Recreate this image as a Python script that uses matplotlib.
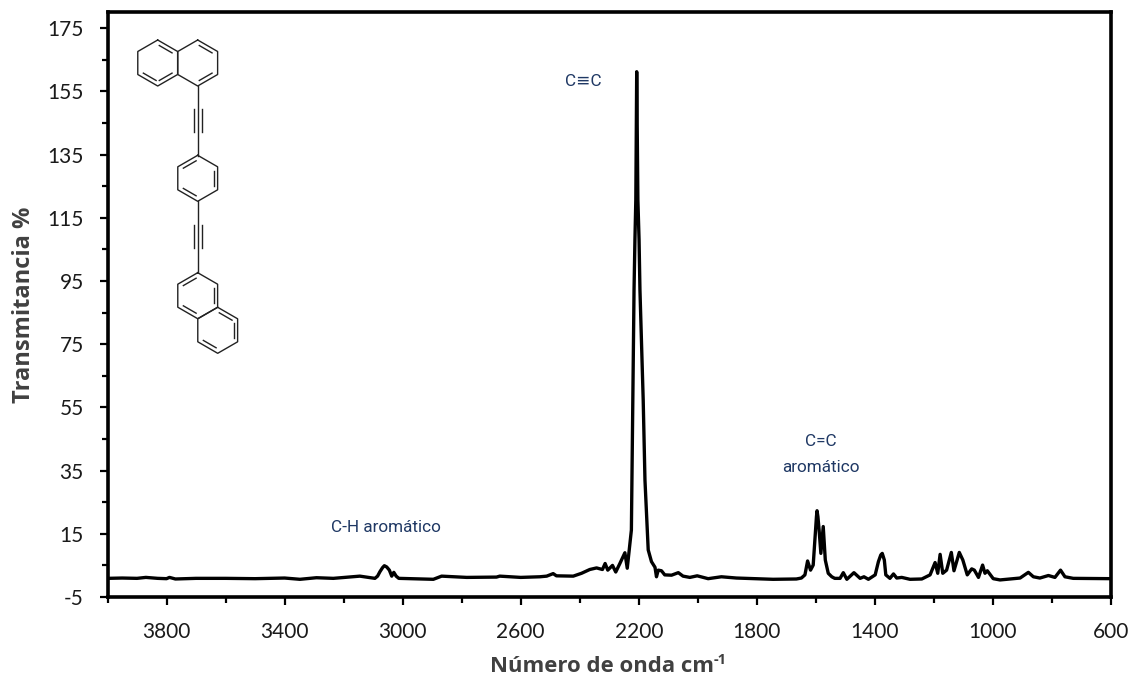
import numpy as np
import matplotlib
matplotlib.use("Agg")
import matplotlib.pyplot as plt
from matplotlib.ticker import MultipleLocator, FixedLocator, NullFormatter

plt.rcParams["axes.unicode_minus"] = False

# spectrum
wavenumber = [4000, 3950, 3900, 3870, 3830, 3800, 3790, 3770, 3700, 3600, 3500, 3400,
              3348, 3292, 3235, 3145, 3094, 3085, 3077, 3068, 3062, 3054, 3045, 3037, 3030, 3022, 3013, 2896, 2868,
              2783, 2682, 2671, 2600, 2535, 2512, 2490, 2479, 2422, 2394, 2366, 2343, 2323,
              2314, 2305, 2289, 2278, 2264, 2247, 2239, 2230, 2225, 2220, 2216, 2213, 2210,
              2207, 2203, 2199, 2196, 2185, 2179, 2171, 2168, 2157, 2145, 2140, 2134, 2123,
              2112, 2089, 2066, 2050, 2027, 2002, 1965, 1920, 1869, 1745, 1666, 1649, 1637,
              1628, 1618, 1609, 1601, 1598, 1596, 1593, 1589, 1583, 1575, 1568, 1558, 1546, 1536, 1518, 1507,
              1495, 1471, 1450, 1437, 1422, 1399, 1388, 1380, 1375, 1368, 1363, 1349, 1337, 1326, 1309,
              1281, 1241, 1213, 1196, 1187, 1179, 1170, 1157, 1141, 1132, 1114, 1102, 1087,
              1072, 1063, 1049, 1035, 1027, 1019, 999, 976, 908, 880, 863, 841, 812, 790,
              771, 756, 728, 606, 600]
transmittance = [0.9, 1.0, 0.9, 1.2, 0.9, 0.8, 1.2, 0.7, 0.9, 0.9, 0.8, 1.0,
                 0.6, 1.1, 0.9, 1.6, 0.9, 1.6, 3.0, 4.3, 4.9, 4.5, 3.5, 1.6, 2.8, 1.6, 0.9, 0.6, 1.6,
                 1.2, 1.3, 1.6, 1.2, 1.4, 1.6, 2.4, 1.7, 1.6, 2.5, 3.7, 4.2, 3.7,
                 5.6, 3.5, 5.0, 2.9, 5.6, 9.0, 4.1, 12.0, 16.2, 57.4, 92.2, 108.0, 120.7,
                 161.2, 120.7, 108.0, 92.2, 57.4, 32.0, 16.2, 9.9, 6.2, 4.4, 1.4, 3.5, 3.3,
                 2.0, 1.9, 2.7, 1.6, 1.2, 1.7, 0.8, 1.4, 1.0, 0.6, 0.7, 1.0, 2.0,
                 6.4, 3.5, 5.1, 16.2, 20.4, 22.3, 20.4, 16.2, 8.8, 17.3, 6.7, 2.5, 1.4, 0.9, 0.9, 2.7,
                 0.6, 2.7, 0.9, 1.4, 0.6, 2.0, 6.2, 8.3, 8.8, 6.7, 2.0, 0.9, 2.3, 1.0, 1.2,
                 0.6, 0.7, 2.0, 5.9, 2.5, 8.5, 2.5, 3.5, 9.1, 3.3, 9.1, 6.7, 2.0,
                 3.9, 3.5, 1.2, 5.1, 2.5, 3.3, 0.8, 0.4, 1.0, 2.8, 1.4, 1.0, 1.8, 1.2,
                 3.5, 1.4, 0.9, 0.8, 0.8]

x_labels = [3800, 3400, 3000, 2600, 2200, 1800, 1400, 1000, 600]
y_labels = [-5, 15, 35, 55, 75, 95, 115, 135, 155, 175]

label_color = "#404040"
note_color = "#1F3864"
note_font = ["Roboto", "DejaVu Sans"]

fig = plt.figure(figsize=(11.32, 6.8), dpi=100)
ax = fig.add_axes([107.5 / 1132, 1 - 597 / 680, (1111 - 107.5) / 1132, (597 - 12.3) / 680])

ax.plot(wavenumber, transmittance, color="black", linewidth=2.4, solid_joinstyle="round")
ax.set_xlim(4000, 600)
ax.set_ylim(-5, 180)

ax.xaxis.set_major_locator(FixedLocator(x_labels))
ax.xaxis.set_minor_locator(MultipleLocator(200))
ax.yaxis.set_major_locator(FixedLocator(y_labels))
ax.yaxis.set_minor_locator(FixedLocator([v + 10 for v in y_labels]))
ax.xaxis.set_minor_formatter(NullFormatter())
ax.yaxis.set_minor_formatter(NullFormatter())
ax.tick_params(which="major", length=6, width=1.6, labelsize=15, labelcolor="#1a1a1a")
ax.tick_params(which="minor", length=4, width=1.6)
ax.tick_params(axis="x", which="major", pad=12)
ax.tick_params(axis="y", which="major", pad=11)
for lab in ax.get_xticklabels() + ax.get_yticklabels():
    lab.set_family("Lato")
for s in ax.spines.values():
    s.set_linewidth(2.6)

fig.text(490 / 1132, 1 - 667 / 680, "Número de onda cm", family="Open Sans", weight="bold",
         fontsize=15.9, color=label_color, ha="left", va="center")
fig.text(714 / 1132, 1 - 660 / 680, "-1", family="Open Sans", weight="bold",
         fontsize=10.5, color=label_color, ha="left", va="center")
fig.text(24 / 1132, 1 - 305 / 680, "Transmitancia %", family="Open Sans", weight="bold",
         fontsize=17, color=label_color, ha="center", va="center", rotation=90)

# band labels
fig.text(583 / 1132, 1 - 81 / 680, "C≡C", family=note_font, fontsize=12.3, color=note_color, ha="center", va="center")
fig.text(821 / 1132, 1 - 442 / 680, "C=C", family=note_font, fontsize=12.3, color=note_color, ha="center", va="center")
fig.text(821 / 1132, 1 - 467 / 680, "aromático", family=note_font, fontsize=12.3, color=note_color, ha="center", va="center")
fig.text(385.5 / 1132, 1 - 527 / 680, "C-H aromático", family=note_font, fontsize=12.3, color=note_color, ha="center", va="center")

# molecule, overlay axes in picture pixels
mol = fig.add_axes([0, 0, 1, 1], facecolor="none")
mol.set_xlim(0, 1132)
mol.set_ylim(680, 0)
mol.axis("off")


def ring(cx, cy, doubles):
    # hexagon, vertex 0 on top and going clockwise
    ang = np.radians(np.arange(6) * 60 - 90)
    px = cx + 23 * np.cos(ang)
    py = cy + 23 * np.sin(ang)
    mol.plot(np.append(px, px[0]), np.append(py, py[0]), color="#222222", lw=1.0)
    for i in doubles:
        j = (i + 1) % 6
        ax0, ay0 = cx + 0.8 * (px[i] - cx), cy + 0.8 * (py[i] - cy)
        ax1, ay1 = cx + 0.8 * (px[j] - cx), cy + 0.8 * (py[j] - cy)
        mx0, my0 = ax0 + 0.1 * (ax1 - ax0), ay0 + 0.1 * (ay1 - ay0)
        mx1, my1 = ax1 - 0.1 * (ax1 - ax0), ay1 - 0.1 * (ay1 - ay0)
        mol.plot([mx0, mx1], [my0, my1], color="#222222", lw=1.0)


def triple(x, y0, y1):
    mol.plot([x, x], [y0, y1], color="#222222", lw=1.0)
    third = (y1 - y0) / 3
    for dx in (-4, 4):
        mol.plot([x + dx, x + dx], [y0 + third, y1 - third], color="#222222", lw=1.0)


ring(157.7, 63, [0, 2, 3])   # left ring of the top naphthalene
ring(197.7, 63, [0, 2])
ring(197.7, 178.3, [1, 3, 5])
ring(197.7, 295.7, [1, 3, 5])
ring(217.7, 330.3, [0, 1, 3])
triple(197.7, 86, 155.7)
triple(197.7, 201.3, 272)

fig.savefig("out.png", dpi=100)
